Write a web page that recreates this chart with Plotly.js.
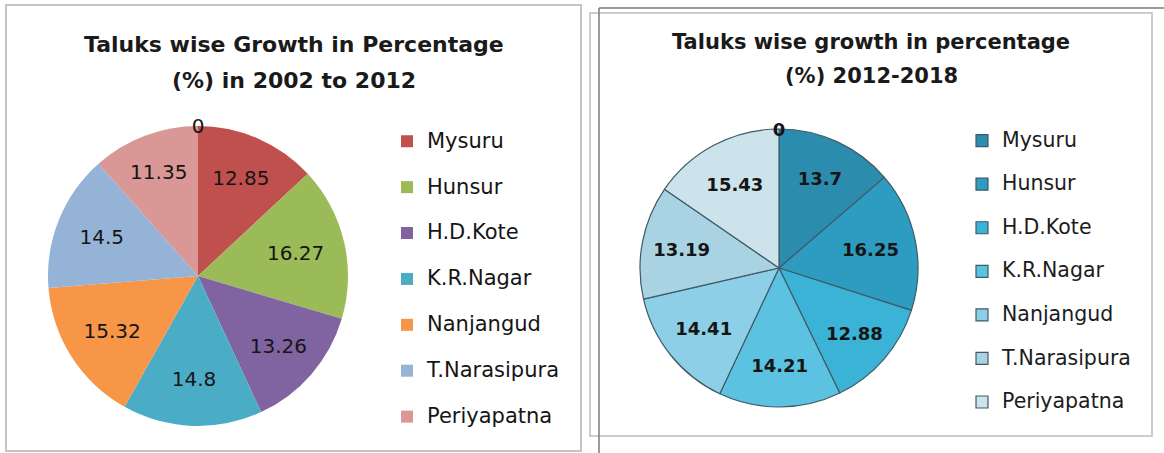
<!DOCTYPE html>
<html><head><meta charset="utf-8">
<script src="https://cdn.plot.ly/plotly-3.0.1.min.js"></script>
<style>html,body{margin:0;padding:0;background:#fff}#chart{width:1164px;height:453px}</style>
</head><body><div id="chart"></div>
<script>
// ---- data ----
const taluks = ['Mysuru', 'Hunsur', 'H.D.Kote', 'K.R.Nagar', 'Nanjangud', 'T.Narasipura', 'Periyapatna'];
const growth2002to2012 = [12.85, 16.27, 13.26, 14.80, 15.32, 14.50, 11.35];
const growth2012to2018 = [13.70, 16.25, 12.88, 14.21, 14.41, 13.19, 15.43];
const extraValue = 0;            // unlabelled zero slice shown as "0" at the top
const colors2002 = ['#C0504D', '#9BBB59', '#8064A2', '#4BACC6', '#F79646', '#95B3D7', '#D99795'];
const colors2012 = ['#2C8CAE', '#2E9BC0', '#3BB3D6', '#5CC2E1', '#8DCFE6', '#A9D3E3', '#CDE3EC'];
const titleLines2002 = ['Taluks wise Growth in Percentage', '(%) in 2002 to 2012'];
const titleLines2012 = ['Taluks wise growth in percentage', '(%) 2012-2018'];

// ---- helpers ----
const W = 1164, H = 453;
const px = v => v / W, py = v => 1 - v / H;
const FONT = 'DejaVu Sans';
const legendLabels = (size, color) =>
  taluks.map(t => '<span style="font-size:' + size + 'px;fill:' + color + '">' + t + '</span><br> ');

const trace1 = {
  type: 'pie', sort: false, direction: 'clockwise', rotation: 0,
  labels: legendLabels(21, '#151515').concat([' ']),
  values: growth2002to2012.concat([extraValue]),
  marker: {colors: colors2002.concat(['rgba(0,0,0,0)']), line: {width: 0}},
  texttemplate: '<span style="font-size:20px">%{value}</span>',
  textposition: 'inside', insidetextorientation: 'horizontal',
  textfont: {family: FONT, size: 18, color: '#151515'},
  domain: {x: [px(48), px(348)], y: [py(426), py(126)]},
  legend: 'legend', hoverinfo: 'skip'
};
const trace2 = {
  type: 'pie', sort: false, direction: 'clockwise', rotation: 0,
  labels: legendLabels(20.5, '#1c1c1c').concat(['  ']),
  values: growth2012to2018.concat([extraValue]),
  marker: {colors: colors2012.concat(['rgba(0,0,0,0)']),
           line: {width: 1.2, color: taluks.map(() => '#3F5A66').concat(['rgba(0,0,0,0)'])}},
  texttemplate: '%{value}',
  textposition: 'inside', insidetextorientation: 'horizontal',
  textfont: {family: FONT, size: 18, color: '#151515', weight: 'bold'},
  domain: {x: [px(640), px(918)], y: [py(407), py(129)]},
  legend: 'legend2', hoverinfo: 'skip'
};

const titleAnn = (lines, cx, ys, size) => lines.map((t, i) => ({
  text: t, xref: 'paper', yref: 'paper', x: px(cx), y: py(ys[i]),
  xanchor: 'center', yanchor: 'middle', showarrow: false,
  font: {family: FONT, size: size, color: '#1a1a1a', weight: 'bold'}
}));

const layout = {
  width: W, height: H, margin: {l: 0, r: 0, t: 0, b: 0, autoexpand: false},
  paper_bgcolor: '#ffffff', plot_bgcolor: '#ffffff',
  showlegend: true,
  uniformtext: {mode: 'show', minsize: 18},
  legend: {x: px(387), xanchor: 'left', y: py(124), yanchor: 'top', valign: 'top',
           font: {family: FONT, size: 16.5, color: '#151515'}, bgcolor: 'rgba(0,0,0,0)'},
  legend2: {x: px(962), xanchor: 'left', y: py(124), yanchor: 'top', valign: 'top',
            font: {family: FONT, size: 15.6, color: '#1c1c1c'}, bgcolor: 'rgba(0,0,0,0)'},
  annotations: titleAnn(titleLines2002, 294, [45, 80], 22).concat(titleAnn(titleLines2012, 871, [42, 76], 21)),
  shapes: [
    {type: 'rect', xref: 'paper', yref: 'paper', x0: px(6), x1: px(581), y0: py(451), y1: py(5),
     line: {color: '#C4C4C4', width: 2}},
    {type: 'rect', xref: 'paper', yref: 'paper', x0: px(590), x1: px(1152), y0: py(436), y1: py(13),
     line: {color: '#BDBDBD', width: 1.5}},
    {type: 'line', xref: 'paper', yref: 'paper', x0: px(599), x1: px(599), y0: py(453), y1: py(8),
     line: {color: '#7A7A7A', width: 1.5}},
    {type: 'line', xref: 'paper', yref: 'paper', x0: px(599), x1: px(1164), y0: py(8), y1: py(8),
     line: {color: '#7A7A7A', width: 1.5}}
  ]
};

Plotly.newPlot('chart', [trace1, trace2], layout, {displayModeBar: false, staticPlot: true});
</script>
</body></html>
